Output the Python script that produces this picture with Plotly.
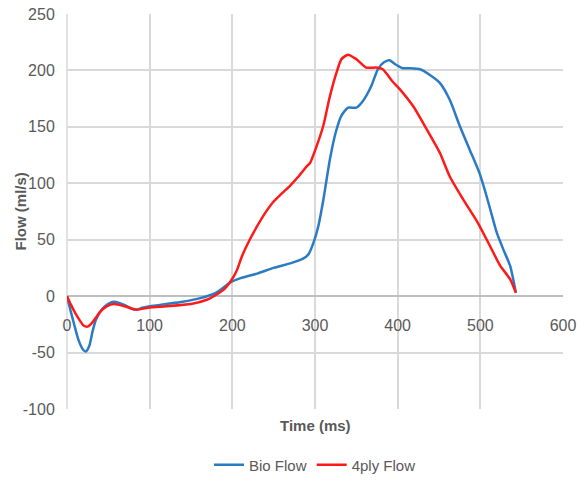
import plotly.graph_objects as go

# Bio Flow (blue)
bio_time = [0, 4, 9, 14, 19, 23, 27, 31, 35, 40, 46, 52, 57, 63, 70, 78, 84, 92, 100, 120, 140, 160,
            180, 190, 197, 210, 230, 250, 270, 285, 292, 298, 304, 310, 318, 325, 332, 340, 350,
            358, 368, 376, 383, 390, 398, 406, 415, 427, 439, 451, 463, 475, 487, 499, 505,
            512, 520, 528, 536, 543]
bio_flow = [0, -12, -26, -39, -47, -49, -44, -31, -21, -14, -9, -6, -5, -6, -8, -11, -12, -10, -9,
            -7, -5, -2, 3, 8, 12, 16, 20, 25, 29, 33, 37, 47, 62, 85, 121, 145, 160, 167, 167,
            173, 186, 201, 207, 209, 205, 202, 202, 201, 196, 189, 174, 151, 130, 109, 95,
            77, 56, 41, 27, 3]

# 4ply Flow (red)
ply_time = [0, 5, 10, 15, 20, 25, 30, 35, 40, 48, 57, 70, 84, 100, 120, 150, 170, 180, 190, 197,
            205, 212, 221, 230, 240, 249, 260, 270, 280, 290, 294, 302, 310, 318, 326, 332, 340,
            350, 362, 374, 382, 394, 403, 419, 435, 451, 463, 479, 497, 512, 524, 536, 543]
ply_flow = [0, -8, -15, -21, -26, -27, -24, -19, -14, -9, -7, -9, -12, -10, -9, -7, -3, 1, 6, 12,
            22, 36, 50, 62, 74, 83, 91, 98, 106, 115, 118, 133, 151, 177, 198, 210, 214, 210,
            202.5, 202.5, 201, 190, 183, 168, 148, 127, 106, 86, 65, 44, 27, 15, 3]

x_ticks = [0, 100, 200, 300, 400, 500, 600]
y_ticks = [-100, -50, 0, 50, 100, 150, 200, 250]

GRAY = "#595959"
FONT = "Liberation Sans Narrow, Arial Narrow, Liberation Sans, Arial, sans-serif"

fig = go.Figure()
fig.add_trace(go.Scatter(x=bio_time, y=bio_flow, mode="lines", name="Bio Flow",
                         line=dict(color="#2A7BC4", width=2.5, shape="spline", smoothing=0.6)))
fig.add_trace(go.Scatter(x=ply_time, y=ply_flow, mode="lines", name="4ply Flow",
                         line=dict(color="#FF1A1A", width=2.5, shape="spline", smoothing=0.6)))

ymin, ymax = -100, 250
fig.update_layout(
    width=585, height=483,
    margin=dict(l=67, r=22, t=14, b=74, autoexpand=False),
    paper_bgcolor="white", plot_bgcolor="white",
    font=dict(family=FONT, size=16, color=GRAY),
    xaxis=dict(range=[0, 600], tickvals=x_ticks, ticktext=[str(v) for v in x_ticks],
               showgrid=True, gridcolor="#d9d9d9",
               gridwidth=1.5, zeroline=False, anchor="free",
               position=(0 - ymin) / (ymax - ymin), ticks="outside", ticklen=15,
               tickcolor="rgba(0,0,0,0)", tickfont=dict(size=16, color=GRAY),
               showline=False),
    yaxis=dict(range=[ymin, ymax], tickvals=y_ticks, ticktext=[str(v) for v in y_ticks],
               showgrid=True, gridcolor="#d9d9d9",
               gridwidth=1.5, zeroline=True, zerolinecolor="#bfbfbf", zerolinewidth=2,
               ticks="outside", ticklen=8, tickcolor="rgba(0,0,0,0)",
               tickfont=dict(size=16, color=GRAY)),
    legend=dict(orientation="h", x=0.5, xanchor="center", y=-0.10, yanchor="top",
                font=dict(size=15, color=GRAY), itemwidth=30),
    showlegend=True,
)
fig.add_annotation(text="<b>Time (ms)</b>", xref="paper", yref="paper", x=0.5, y=-0.015,
                   yanchor="top", showarrow=False,
                   font=dict(size=15, color=GRAY, family=FONT))
fig.add_annotation(text="<b>Flow (ml/s)</b>", xref="paper", yref="paper",
                   x=(20 - 67) / 496, y=0.5, xanchor="center", yanchor="middle",
                   textangle=-90, showarrow=False,
                   font=dict(size=15, color=GRAY, family="Liberation Sans, Arial, sans-serif"))
fig.add_shape(type="line", xref="paper", yref="paper", x0=0, x1=0, y0=0, y1=1,
              line=dict(color="#d9d9d9", width=1.5), layer="below")

fig.write_html("out.html")
